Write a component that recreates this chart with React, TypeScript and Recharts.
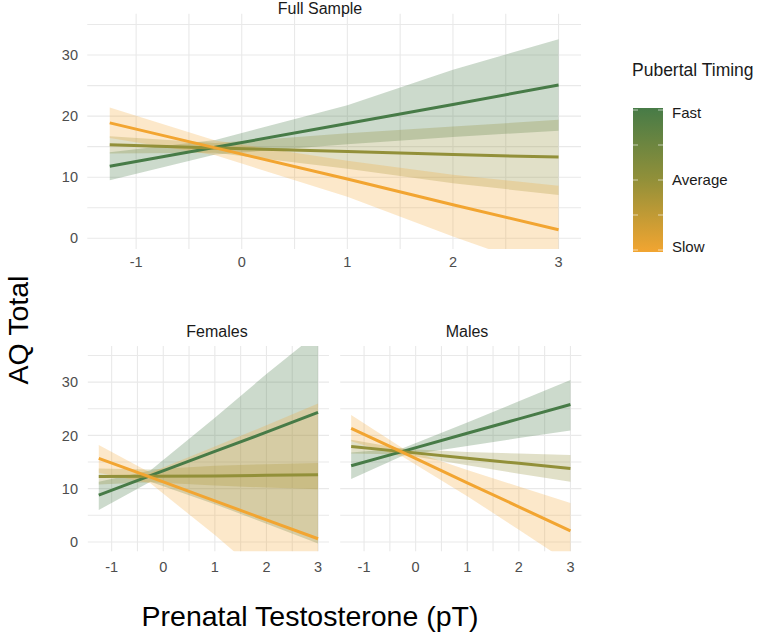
import React from "react";
import {
  ComposedChart,
  Area,
  Line,
  XAxis,
  YAxis,
  CartesianGrid,
} from "recharts";

// ---- data ----
const xPoints = [-1.25, -0.25, 1, 2, 3];

// Full Sample
const fullFastFit = [11.8, 14.9, 18.8, 21.9, 25.1];
const fullFastLo = [9.5, 13.7, 15.4, 16.6, 17.6];
const fullFastHi = [14.1, 16.1, 21.8, 27.6, 32.6];
const fullAvgFit = [15.3, 14.8, 14.2, 13.7, 13.3];
const fullAvgLo = [13.9, 14.0, 11.4, 9.0, 7.1];
const fullAvgHi = [16.7, 15.6, 17.2, 18.3, 19.4];
const fullSlowFit = [18.9, 14.8, 9.7, 5.5, 1.4];
const fullSlowLo = [16.4, 13.6, 6.8, 0.3, -5.8];
const fullSlowHi = [21.4, 16.0, 12.7, 10.4, 8.6];

// Females
const femFastFit = [8.8, 12.45, 17.0, 20.6, 24.3];
const femFastLo = [6.0, 11.3, 7.1, 3.4, -0.3];
const femFastHi = [11.3, 13.4, 23.3, 31.5, 39.3];
const femAvgFit = [12.3, 12.35, 12.4, 12.5, 12.6];
const femAvgLo = [10.8, 11.2, 10.6, 10.2, 9.9];
const femAvgHi = [13.8, 13.6, 14.3, 14.6, 14.8];
const femSlowFit = [15.7, 12.15, 7.7, 4.15, 0.6];
const femSlowLo = [13.0, 11.0, 1.3, -7.0, -15.5];
const femSlowHi = [18.2, 13.0, 17.9, 21.9, 26.0];

// Males
const maleFastFit = [14.3, 17.0, 20.4, 23.1, 25.8];
const maleFastLo = [11.8, 16.2, 18.0, 19.5, 20.9];
const maleFastHi = [16.8, 17.6, 22.4, 26.4, 30.4];
const maleAvgFit = [17.9, 16.95, 15.7, 14.75, 13.8];
const maleAvgLo = [16.6, 16.4, 14.4, 12.8, 11.3];
const maleAvgHi = [19.2, 17.5, 16.9, 16.6, 16.3];
const maleSlowFit = [21.3, 16.8, 11.1, 6.6, 2.1];
const maleSlowLo = [18.9, 16.0, 8.6, 2.3, -4.1];
const maleSlowHi = [23.8, 17.6, 13.5, 10.4, 7.3];

const xTicks = [-1, 0, 1, 2, 3];
const yTicks = [0, 10, 20, 30];
const xGrid = [-1, -0.5, 0, 0.5, 1, 1.5, 2, 2.5, 3];
const yGrid = [0, 5, 10, 15, 20, 25, 30, 35];
const xDomain = [-1.4625, 3.2125];
const yDomain = [-1.75, 36.75];

const legendLabels = ["Fast", "Average", "Slow"];

const C_FAST = "#477b47";
const C_AVG = "#929039";
const C_SLOW = "#f2a531";
const FONT = '"Liberation Sans", Arial, Helvetica, sans-serif';

type Series = {
  fit: number[];
  lo: number[];
  hi: number[];
};

function buildRows(fast: Series, avg: Series, slow: Series) {
  return xPoints.map((x, i) => ({
    x,
    fast: fast.fit[i],
    fastBand: [fast.lo[i], fast.hi[i]],
    avg: avg.fit[i],
    avgBand: [avg.lo[i], avg.hi[i]],
    slow: slow.fit[i],
    slowBand: [slow.lo[i], slow.hi[i]],
  }));
}

const fullRows = buildRows(
  { fit: fullFastFit, lo: fullFastLo, hi: fullFastHi },
  { fit: fullAvgFit, lo: fullAvgLo, hi: fullAvgHi },
  { fit: fullSlowFit, lo: fullSlowLo, hi: fullSlowHi }
);
const femRows = buildRows(
  { fit: femFastFit, lo: femFastLo, hi: femFastHi },
  { fit: femAvgFit, lo: femAvgLo, hi: femAvgHi },
  { fit: femSlowFit, lo: femSlowLo, hi: femSlowHi }
);
const maleRows = buildRows(
  { fit: maleFastFit, lo: maleFastLo, hi: maleFastHi },
  { fit: maleAvgFit, lo: maleAvgLo, hi: maleAvgHi },
  { fit: maleSlowFit, lo: maleSlowLo, hi: maleSlowHi }
);

const tickStyle = { fill: "#4d4d4d", fontSize: 14.5, fontFamily: FONT };

function Panel(props: {
  rows: any[];
  width: number;
  height: number;
  margin: any;
  yAxisWidth: number;
  showY: boolean;
  xAxisHeight: number;
  xTickMargin: number;
  yTickMargin: number;
}) {
  const { rows, width, height, margin, yAxisWidth, showY, xAxisHeight, xTickMargin, yTickMargin } = props;
  return (
    <ComposedChart width={width} height={height} data={rows} margin={margin}>
      <CartesianGrid
        stroke="#e9e9e9"
        strokeWidth={1.1}
        horizontalValues={yGrid}
        verticalValues={xGrid}
      />
      <XAxis
        type="number"
        dataKey="x"
        domain={xDomain}
        ticks={xTicks}
        allowDataOverflow
        tickLine={false}
        axisLine={false}
        height={xAxisHeight}
        tickSize={6}
        tickMargin={xTickMargin}
        tick={tickStyle}
        interval={0}
      />
      <YAxis
        type="number"
        domain={yDomain}
        ticks={yTicks}
        allowDataOverflow
        tickLine={false}
        axisLine={false}
        width={yAxisWidth}
        hide={!showY}
        tickSize={6}
        tickMargin={yTickMargin}
        tick={tickStyle}
        interval={0}
      />
      <Area type="linear" dataKey="fastBand" stroke="none" fill={C_FAST} fillOpacity={0.28} isAnimationActive={false} />
      <Area type="linear" dataKey="avgBand" stroke="none" fill={C_AVG} fillOpacity={0.28} isAnimationActive={false} />
      <Area type="linear" dataKey="slowBand" stroke="none" fill={C_SLOW} fillOpacity={0.26} isAnimationActive={false} />
      <Line type="linear" dataKey="fast" stroke={C_FAST} strokeWidth={3} dot={false} isAnimationActive={false} />
      <Line type="linear" dataKey="avg" stroke={C_AVG} strokeWidth={3} dot={false} isAnimationActive={false} />
      <Line type="linear" dataKey="slow" stroke={C_SLOW} strokeWidth={3} dot={false} isAnimationActive={false} />
    </ComposedChart>
  );
}

function Legend() {
  return (
    <svg width={160} height={220} style={{ position: "absolute", left: 620, top: 50 }}>
      <defs>
        <linearGradient id="ptGrad" x1="0" y1="0" x2="0" y2="1">
          <stop offset="0%" stopColor={C_FAST} />
          <stop offset="50%" stopColor={C_AVG} />
          <stop offset="100%" stopColor={C_SLOW} />
        </linearGradient>
      </defs>
      <text x={12} y={26} fontSize={17.5} fontFamily={FONT} fill="#1a1a1a">
        Pubertal Timing
      </text>
      <rect x={13} y={58} width={30} height={144} fill="url(#ptGrad)" />
      {[0, 0.25, 0.5, 0.75, 1].map((f, i) => (
        <g key={i}>
          <line x1={13} x2={18} y1={60 + f * 140} y2={60 + f * 140} stroke="#ffffff" strokeOpacity={0.6} strokeWidth={1} />
          <line x1={38} x2={43} y1={60 + f * 140} y2={60 + f * 140} stroke="#ffffff" strokeOpacity={0.6} strokeWidth={1} />
        </g>
      ))}
      {legendLabels.map((lab, i) => (
        <text key={lab} x={52} y={63 + i * 67 + 5} fontSize={15} fontFamily={FONT} fill="#1a1a1a">
          {lab}
        </text>
      ))}
    </svg>
  );
}

export default function App() {
  return (
    <div
      style={{
        position: "absolute",
        left: 0,
        top: 0,
        width: 760,
        height: 642,
        background: "#ffffff",
        fontFamily: FONT,
        overflow: "hidden",
      }}
    >
      <div style={{ position: "absolute", left: 0, top: 0 }}>
        <Panel
          rows={fullRows}
          width={600}
          height={280}
          margin={{ top: 13.8, right: 19, bottom: 0, left: 0 }}
          yAxisWidth={87.3}
          showY
          xAxisHeight={31}
          xTickMargin={2}
          yTickMargin={3.3}
        />
      </div>
      <div style={{ position: "absolute", left: 0, top: 330 }}>
        <Panel
          rows={femRows}
          width={340}
          height={260}
          margin={{ top: 16.1, right: 11, bottom: 8.7, left: 0 }}
          yAxisWidth={87.8}
          showY
          xAxisHeight={30}
          xTickMargin={4}
          yTickMargin={3.8}
        />
      </div>
      <div style={{ position: "absolute", left: 340, top: 330 }}>
        <Panel
          rows={maleRows}
          width={250}
          height={260}
          margin={{ top: 16.1, right: 8.6, bottom: 8.7, left: 0.2 }}
          yAxisWidth={0}
          showY={false}
          xAxisHeight={30}
          xTickMargin={4}
          yTickMargin={0}
        />
      </div>

      <div style={{ position: "absolute", left: 220, width: 200, top: 0, textAlign: "center", fontSize: 16, color: "#1a1a1a", lineHeight: "18px" }}>
        Full Sample
      </div>
      <div style={{ position: "absolute", left: 117, width: 200, top: 323, textAlign: "center", fontSize: 16, color: "#1a1a1a", lineHeight: "18px" }}>
        Females
      </div>
      <div style={{ position: "absolute", left: 367, width: 200, top: 323, textAlign: "center", fontSize: 16, color: "#1a1a1a", lineHeight: "18px" }}>
        Males
      </div>

      <div
        style={{
          position: "absolute",
          left: 18,
          top: 330,
          transform: "translate(-50%, -50%) rotate(-90deg)",
          fontSize: 28.5,
          whiteSpace: "nowrap",
          color: "#000000",
          lineHeight: "32px",
        }}
      >
        AQ Total
      </div>
      <div
        style={{
          position: "absolute",
          left: 110,
          width: 400,
          top: 600,
          textAlign: "center",
          fontSize: 28.5,
          whiteSpace: "nowrap",
          color: "#000000",
          lineHeight: "32px",
        }}
      >
        Prenatal Testosterone (pT)
      </div>

      <Legend />
    </div>
  );
}
